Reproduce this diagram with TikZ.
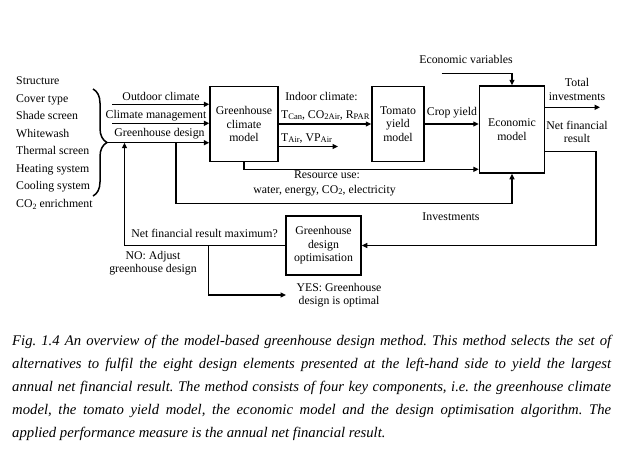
\documentclass[tikz,border=0pt]{standalone}
\usepackage{fontspec}
\setmainfont{Liberation Serif}
\usetikzlibrary{arrows.meta,decorations.pathreplacing,calc}
\newcommand\smsub[1]{\raisebox{-0.8pt}{\fontsize{8.5}{9}\selectfont #1}}
\newcommand\cotwo{CO\raisebox{-2.2pt}{\fontsize{8}{8}\selectfont 2}}
\frenchspacing
\begin{document}
\begin{tikzpicture}[x=1pt,y=-1pt,
  txt/.style={font=\fontsize{11.8}{13.5}\selectfont, inner sep=0pt, text height=8.3pt, text depth=2.5pt},
  mtxt/.style={font=\fontsize{11.8}{13.5}\selectfont, inner sep=0pt, align=center},
  box/.style={draw, line width=1.5pt, inner sep=0pt, align=center, font=\fontsize{11.8}{13.5}\selectfont},
  ln/.style={line width=1.5pt},
  arr/.style={line width=1.5pt, -{Triangle[length=5.5pt,width=5pt]}},
  captxt/.style={font=\fontsize{14.7}{23}\selectfont\itshape, inner sep=0pt, anchor=base west}]
\useasboundingbox (0,0) rectangle (626,456);
\fill[white] (0,0) rectangle (626,456);

% boxes
\node[box, minimum width=68pt, minimum height=75pt] (gcm) at (244,124) {Greenhouse\\climate\\model};
\node[box, minimum width=52pt, minimum height=75pt] (tym) at (398,124) {Tomato\\yield\\model};
\node[box, minimum width=65pt, minimum height=87pt] (eco) at (512,129.5) {Economic\\model};
\node[box, minimum width=75pt, minimum height=59pt] (opt) at (323.5,245.5) {Greenhouse\\design\\optimisation};

% left list
\foreach \t [count=\i from 0] in {Structure,Cover type,Shade screen,Whitewash,Thermal screen,Heating system,Cooling system}
  \node[txt, anchor=west] (l\i) at (16,81.7+17.5*\i) {\t};
\node[txt, anchor=west] (l7) at (16,204.2) {\cotwo{} enrichment};

% brace
\draw[ln, line width=1.5pt, decorate, decoration={brace, amplitude=14pt}] (93,89) -- (93,196);

% input arrows
\coordinate (oc) at (112,104.3);
\coordinate (cm) at (112,123.3);
\coordinate (gd) at (107,142.7);
\draw[arr] (oc) -- (oc -| gcm.west);
\draw[arr] (cm) -- (cm -| gcm.west);
\draw[arr] (gd) -- (gd -| gcm.west);
\node[txt] (toc) at (161,97.7) {Outdoor climate};
\node[txt] (tcm) at (156,115.7) {Climate management};
\node[txt] (tgd) at (159.5,133.5) {Greenhouse design};

% indoor climate
\coordinate (yic) at (0,124);
\coordinate (tair) at (338,146.5);
\draw[arr] (gcm.east |- yic) -- (tym.west |- yic);
\draw[arr] (gcm.east |- tair) -- (tair);
\node[txt] (tic) at (321.5,97.7) {Indoor climate:};
\node[txt, anchor=west] (tic2) at (281,115.5) {T\smsub{Can}, CO\smsub{2Air}, R\smsub{PAR}};
\node[txt, anchor=west] (tic3) at (281,138.3) {T\smsub{Air}, VP\smsub{Air}};

% crop yield
\draw[arr] (tym.east |- yic) -- (eco.west |- yic);
\node[txt] (tcy) at (452,112.5) {Crop yield};

% resource use
\coordinate (yru) at (0,169.3);
\draw[arr] (gcm.south) |- (eco.west |- yru);
\node[txt] (tru) at (327,175.5) {Resource use:};
\node[txt] (tru2) at (324.5,190.5) {water, energy, CO\smsub{2}, electricity};

% investments
\coordinate (dl) at (gd -| 176,0);
\coordinate (inv) at (176,203.5);
\draw[arr] (dl) -- (inv) -| (eco.south);
\node[txt] (tinv) at (451,217.3) {Investments};

% economic variables
\coordinate (ev) at (441.7,73.3);
\draw[arr] (ev) -| (eco.north);
\node[txt] (tev) at (466,61) {Economic variables};

% total investments
\coordinate (ti) at (600,107.3);
\draw[arr] (eco.east |- ti) -- (ti);
\node[mtxt] (tti) at (577,89.5) {Total\\investments};

% net financial result
\coordinate (nf) at (596,151.7);
\draw[arr] (eco.east |- nf) -- (nf) |- (opt.east);
\node[mtxt] (tnf) at (577,132) {Net financial\\result};

% feedback
\coordinate (fb) at (124.5,0);
\draw[arr] (opt.west) -| (fb |- gd);
\node[txt] (tq) at (204.5,235) {Net financial result maximum?};
\node[mtxt] (tno) at (153,263) {NO: Adjust\\greenhouse design};

% yes branch
\coordinate (br) at (208.3,245.5);
\coordinate (yes) at (286,295);
\draw[arr] (br) |- (yes);
\node[mtxt] (tyes) at (339,295) {YES: Greenhouse\\design is optimal};

% caption
\node[captxt] (c1) at (12,345.5) {\makebox[599pt][s]{Fig. 1.4 An overview of the model-based greenhouse design method. This method selects the set of}};
\node[captxt] (c2) at (12,368.5) {\makebox[599pt][s]{alternatives to fulfil the eight design elements presented at the left-hand side to yield the largest}};
\node[captxt] (c3) at (12,391.5) {\makebox[599pt][s]{annual net financial result. The method consists of four key components, i.e. the greenhouse climate}};
\node[captxt] (c4) at (12,414.5) {\makebox[599pt][s]{model, the tomato yield model, the economic model and the design optimisation algorithm. The}};
\node[captxt] (c5) at (12,437.5) {applied performance measure is the annual net financial result.};
\end{tikzpicture}
\end{document}
